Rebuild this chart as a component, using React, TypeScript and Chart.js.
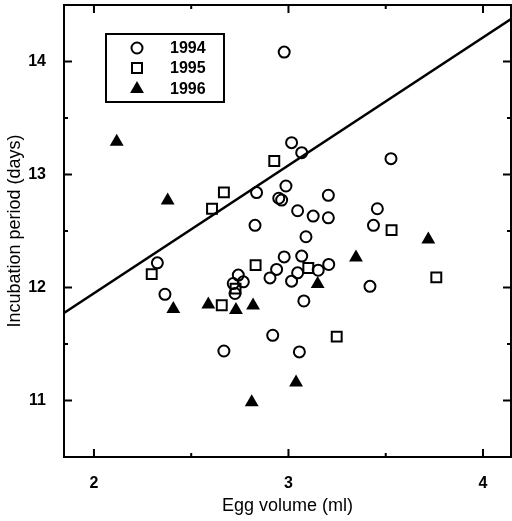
import React, { useEffect, useRef } from "react";
import { Chart, registerables } from "chart.js";

Chart.register(...registerables);

// Data
const x1994 = [2.978, 3.016, 3.068, 3.527, 2.836, 2.987, 2.95, 2.965, 3.205, 3.047, 3.127, 3.205, 2.828, 3.09, 2.978, 3.068, 2.939, 2.905, 3.047, 3.016, 3.153, 3.207, 3.079, 2.742, 2.768, 2.716, 2.725, 2.919, 3.056, 2.668, 3.419, 3.457, 3.437, 2.326, 2.365];
const y1994 = [14.083, 13.282, 13.193, 13.14, 12.84, 12.898, 12.79, 12.774, 12.816, 12.679, 12.632, 12.617, 12.55, 12.449, 12.271, 12.278, 12.16, 12.085, 12.13, 12.056, 12.153, 12.204, 11.881, 12.11, 12.05, 12.035, 11.947, 11.577, 11.43, 11.438, 12.01, 12.697, 12.55, 12.218, 11.94];

const x1995 = [2.927, 2.668, 2.607, 2.297, 2.657, 2.831, 2.728, 3.102, 3.248, 3.53, 3.76];
const y1995 = [13.12, 12.842, 12.697, 12.118, 11.843, 12.198, 11.99, 12.172, 11.565, 12.508, 12.09];

const x1996 = [2.117, 2.379, 2.408, 2.588, 2.73, 2.818, 2.811, 3.039, 3.15, 3.347, 3.719];
const y1996 = [13.29, 12.77, 11.81, 11.85, 11.8, 11.84, 10.985, 11.16, 12.03, 12.265, 12.425];

const fitX = [1.846, 4.144];
const fitY = [11.775, 14.376];

const xMajor = [2, 3, 4];
const xMinor = [2.5, 3.5];
const yMajor = [11, 12, 13, 14];
const yMinor = [11.5, 12.5, 13.5];
const legendLabels = ["1994", "1995", "1996"];

const xMin = 1.846;
const xMax = 4.144;
const yMin = 10.5;
const yMax = 14.5;

const FONT = "'Liberation Sans', Arial, sans-serif";

function pts(xs: number[], ys: number[]) {
  return xs.map((x, i) => ({ x, y: ys[i] }));
}

const framePlugin = {
  id: "frame",
  afterDraw(chart: any) {
    const { ctx, chartArea, scales } = chart;
    const { left, right, top, bottom } = chartArea;
    ctx.save();
    ctx.strokeStyle = "#000";
    ctx.lineWidth = 2;
    ctx.strokeRect(left, top, right - left, bottom - top);
    ctx.lineWidth = 2;
    const tick = (v: number, len: number, axis: "x" | "y") => {
      if (axis === "x") {
        const px = scales.x.getPixelForValue(v);
        ctx.beginPath();
        ctx.moveTo(px, bottom);
        ctx.lineTo(px, bottom - len);
        ctx.moveTo(px, top);
        ctx.lineTo(px, top + len);
        ctx.stroke();
      } else {
        const py = scales.y.getPixelForValue(v);
        ctx.beginPath();
        ctx.moveTo(left, py);
        ctx.lineTo(left + len, py);
        ctx.moveTo(right, py);
        ctx.lineTo(right - len, py);
        ctx.stroke();
      }
    };
    xMajor.forEach((v) => tick(v, 8, "x"));
    xMinor.forEach((v) => tick(v, 4, "x"));
    yMajor.forEach((v) => tick(v, 8, "y"));
    yMinor.forEach((v) => tick(v, 4, "y"));

    // Legend box
    const bx = left + 42, by = top + 29, bw = 118, bh = 68;
    ctx.fillStyle = "#fff";
    ctx.fillRect(bx, by, bw, bh);
    ctx.strokeRect(bx, by, bw, bh);
    const mx = bx + 31;
    const tx = bx + 64;
    const rows = [by + 14, by + 34, by + 55];
    ctx.fillStyle = "#000";
    ctx.font = `bold 16px ${FONT}`;
    ctx.textBaseline = "middle";
    ctx.textAlign = "left";
    rows.forEach((ry, i) => {
      ctx.lineWidth = 2;
      if (i === 0) {
        ctx.beginPath();
        ctx.arc(mx, ry, 5.5, 0, Math.PI * 2);
        ctx.stroke();
      } else if (i === 1) {
        ctx.strokeRect(mx - 5, ry - 5, 10, 10);
      } else {
        const r = 8;
        ctx.beginPath();
        ctx.moveTo(mx, ry - r);
        ctx.lineTo(mx + r * 0.866, ry + r / 2);
        ctx.lineTo(mx - r * 0.866, ry + r / 2);
        ctx.closePath();
        ctx.fill();
      }
      ctx.fillText(legendLabels[i], tx, ry + 1);
    });
    ctx.restore();
  },
};

const zeroPad = (s: any) => {
  s.paddingTop = 0;
  s.paddingBottom = 0;
  s.paddingLeft = 0;
  s.paddingRight = 0;
};

export default function App() {
  const ref = useRef<HTMLCanvasElement>(null);
  useEffect(() => {
    document.body.style.margin = "0";
    const canvas = ref.current!;
    const chart = new Chart(canvas, {
      type: "scatter",
      data: {
        datasets: [
          {
            label: "fit",
            type: "line",
            data: pts(fitX, fitY),
            borderColor: "#000",
            borderWidth: 2.5,
            pointRadius: 0,
            fill: false,
          } as any,
          {
            label: "1994",
            data: pts(x1994, y1994),
            pointStyle: "circle",
            pointRadius: 5.5,
            borderWidth: 2,
            borderColor: "#000",
            backgroundColor: "rgba(0,0,0,0)",
          },
          {
            label: "1995",
            data: pts(x1995, y1995),
            pointStyle: "rect",
            pointRadius: 7,
            borderWidth: 2,
            borderColor: "#000",
            backgroundColor: "rgba(255,255,255,1)",
          },
          {
            label: "1996",
            data: pts(x1996, y1996),
            pointStyle: "triangle",
            pointRadius: 8,
            borderWidth: 0,
            borderColor: "#000",
            backgroundColor: "#000",
          },
        ],
      },
      options: {
        animation: false,
        responsive: false,
        layout: { autoPadding: false, padding: { top: 5, right: 1, left: 0, bottom: 0 } },
        plugins: { legend: { display: false }, tooltip: { enabled: false } },
        scales: {
          x: {
            type: "linear",
            min: xMin,
            max: xMax,
            afterBuildTicks: (s: any) => {
              s.ticks = xMajor.map((v) => ({ value: v }));
            },
            afterFit: (s: any) => {
              s.height = 64;
              zeroPad(s);
            },
            grid: { display: false },
            border: { display: false },
            ticks: {
              color: "#000",
              padding: 9,
              maxRotation: 0,
              font: { family: FONT, size: 16, weight: "bold" },
              callback: (v: any) => String(v),
            },
            title: {
              display: true,
              text: "Egg volume (ml)",
              color: "#000",
              font: { family: FONT, size: 18 },
              padding: { top: 0, bottom: 4 },
            },
          },
          y: {
            type: "linear",
            min: yMin,
            max: yMax,
            afterBuildTicks: (s: any) => {
              s.ticks = yMajor.map((v) => ({ value: v }));
            },
            afterFit: (s: any) => {
              s.width = 64;
              zeroPad(s);
            },
            grid: { display: false },
            border: { display: false },
            ticks: {
              color: "#000",
              padding: 10,
              font: { family: FONT, size: 16, weight: "bold" },
              callback: (v: any) => String(v),
            },
            title: {
              display: true,
              text: "Incubation period (days)",
              color: "#000",
              font: { family: FONT, size: 18 },
              padding: { top: 4, bottom: 0 },
            },
          },
        },
      },
      plugins: [framePlugin],
    });
    return () => chart.destroy();
  }, []);
  return (
    <div style={{ position: "absolute", left: 0, top: 0, width: 512, height: 521, background: "#fff" }}>
      <canvas ref={ref} width={512} height={521} />
    </div>
  );
}
